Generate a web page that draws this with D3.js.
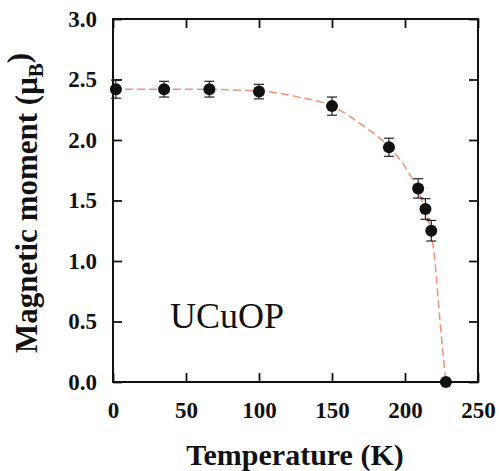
<!DOCTYPE html>
<html>
<head>
<meta charset="utf-8">
<script src="https://cdn.jsdelivr.net/npm/d3@7"></script>
<style>
  body { margin: 0; background: #fff; }
</style>
</head>
<body>
<div id="chart"></div>
<script>
const FONT = "'Liberation Serif'";

// Measured points
const temps = [2, 35, 66, 100, 150, 189, 209, 214, 218, 228];
const moments = [2.42, 2.42, 2.42, 2.40, 2.28, 1.94, 1.60, 1.43, 1.25, 0];
const errors = [0.075, 0.065, 0.065, 0.06, 0.075, 0.075, 0.08, 0.085, 0.085, 0];

// Fit curve
const fitT = [0, 50, 100, 125, 150, 170, 190, 200, 209, 214, 218, 220.5, 224, 228];
const fitM = [2.42, 2.42, 2.405, 2.36, 2.28, 2.13, 1.93, 1.78, 1.58, 1.42, 1.22, 1.0, 0.5, 0];

const xTicks = [0, 50, 100, 150, 200, 250];
const yTicks = [0, 0.5, 1.0, 1.5, 2.0, 2.5, 3.0];

const W = 499, H = 471;
const margin = { top: 19, right: 21, bottom: 89, left: 113 };
const width = W - margin.left - margin.right;
const height = H - margin.top - margin.bottom;

const svg = d3.select("#chart")
  .append("svg")
  .attr("width", W)
  .attr("height", H);

const g = svg.append("g")
  .attr("transform", `translate(${margin.left}, ${margin.top})`);

const x = d3.scaleLinear().domain([0, 250]).range([0, width]);
const y = d3.scaleLinear().domain([0, 3]).range([height, 0]);

// Axes, ticks pointing inward
g.append("g")
  .attr("transform", `translate(0, ${height})`)
  .call(d3.axisBottom(x).tickValues(xTicks).tickSize(-9).tickSizeOuter(0).tickPadding(20));
g.append("g")
  .call(d3.axisLeft(y).tickValues(yTicks).tickSize(-9).tickSizeOuter(0).tickPadding(16)
    .tickFormat(d3.format(".1f")));
g.append("g")
  .call(d3.axisTop(x).tickValues(xTicks).tickSize(-9).tickSizeOuter(0).tickFormat(""));
g.append("g")
  .attr("transform", `translate(${width}, 0)`)
  .call(d3.axisRight(y).tickValues(yTicks).tickSize(-9).tickSizeOuter(0).tickFormat(""));

g.selectAll(".domain").remove();
g.selectAll(".tick line").attr("stroke", "#111").attr("stroke-width", 1.8);
g.selectAll(".tick text")
  .style("font-family", FONT)
  .style("font-size", "23px")
  .style("font-weight", "bold")
  .attr("fill", "#111");

// Frame
g.append("rect")
  .attr("width", width)
  .attr("height", height)
  .attr("fill", "none")
  .attr("stroke", "#111")
  .attr("stroke-width", 2);

// Fit line
const fit = fitT.map((t, i) => [t, fitM[i]]);
g.append("path")
  .datum(fit)
  .attr("fill", "none")
  .attr("stroke", "#ec9376")
  .attr("stroke-width", 1.5)
  .attr("stroke-dasharray", "8,4")
  .attr("d", d3.line().x(d => x(d[0])).y(d => y(d[1])).curve(d3.curveMonotoneX));

// Error bars
const pts = temps.map((t, i) => ({ t: t, m: moments[i], e: errors[i] }));
const bars = g.selectAll(".err")
  .data(pts.filter(d => d.e > 0))
  .enter().append("g")
  .attr("class", "err")
  .attr("stroke", "#222")
  .attr("stroke-width", 1.2);
bars.append("line")
  .attr("x1", d => x(d.t)).attr("x2", d => x(d.t))
  .attr("y1", d => y(d.m - d.e)).attr("y2", d => y(d.m + d.e));
bars.append("line")
  .attr("x1", d => x(d.t) - 5).attr("x2", d => x(d.t) + 5)
  .attr("y1", d => y(d.m + d.e)).attr("y2", d => y(d.m + d.e));
bars.append("line")
  .attr("x1", d => x(d.t) - 5).attr("x2", d => x(d.t) + 5)
  .attr("y1", d => y(d.m - d.e)).attr("y2", d => y(d.m - d.e));

// Points
g.selectAll("circle")
  .data(pts)
  .enter().append("circle")
  .attr("cx", d => x(d.t))
  .attr("cy", d => y(d.m))
  .attr("r", 6)
  .attr("fill", "#111");

// Compound label
g.append("text")
  .attr("x", 57)
  .attr("y", 328 - margin.top)
  .attr("fill", "#111")
  .style("font-family", FONT)
  .style("font-size", "36px")
  .text("UCuOP");

// Axis labels
svg.append("text")
  .attr("x", 295)
  .attr("y", 465)
  .attr("text-anchor", "middle")
  .attr("fill", "#111")
  .style("font-family", FONT)
  .style("font-size", "30px")
  .style("font-weight", "bold")
  .text("Temperature (K)");

const yl = svg.append("text")
  .attr("transform", "translate(37, 203) rotate(-90)")
  .attr("text-anchor", "middle")
  .attr("fill", "#111")
  .style("font-family", FONT)
  .style("font-size", "31px")
  .style("font-weight", "bold");
yl.append("tspan").text("Magnetic moment (\u03bc");
yl.append("tspan").attr("dy", "0.3em").style("font-size", "21px").text("B");
yl.append("tspan").attr("dy", "-0.45em").text(")");
</script>
</body>
</html>
